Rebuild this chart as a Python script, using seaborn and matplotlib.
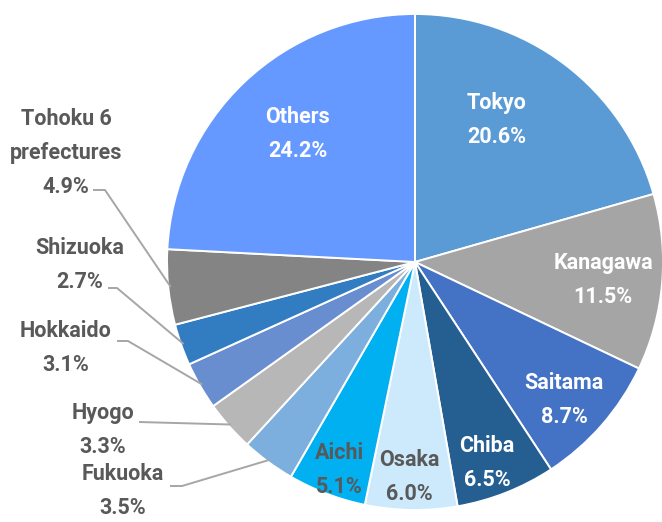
import numpy as np
import matplotlib
matplotlib.use("Agg")
import matplotlib.pyplot as plt
import seaborn as sns

# share of each prefecture (%), clockwise from 12 o'clock
regions = ["Tokyo", "Kanagawa", "Saitama", "Chiba", "Osaka", "Aichi",
           "Fukuoka", "Hyogo", "Hokkaido", "Shizuoka", "Tohoku 6\nprefectures", "Others"]
shares = [20.6, 11.5, 8.7, 6.5, 6.0, 5.1, 3.5, 3.3, 3.1, 2.7, 4.9, 24.2]
slice_colors = ["#5b9bd5", "#a5a5a5", "#4472c4", "#255e91", "#cdeafd", "#00b0f0",
                "#7cafdd", "#b7b7b7", "#698ed0", "#327dc2", "#848484", "#6699ff"]

# label layout in pixel coords (x, y from top)
label_pos = {
    "Tokyo": (497, 120), "Kanagawa": (603, 280), "Saitama": (564, 400),
    "Chiba": (487, 463), "Osaka": (409, 477), "Aichi": (339, 470),
    "Fukuoka": (123, 491), "Hyogo": (103, 430), "Hokkaido": (66, 348),
    "Shizuoka": (80, 265), "Tohoku 6\nprefectures": (66, 153), "Others": (298, 134),
}
white_text = {"Tokyo", "Kanagawa", "Saitama", "Chiba", "Others"}
# leader line start + elbow for outside labels
leaders = {
    "Fukuoka": [(170, 486), (182, 486)],
    "Hyogo": [(139, 422), (139, 422)],
    "Hokkaido": [(117, 341), (128, 341)],
    "Shizuoka": [(108, 288), (117, 288)],
    "Tohoku 6\nprefectures": [(93, 190), (105, 190)],
}

W, H = 662, 522
cx, cy, R = 415, 260, 248

sns.set_style("white")
plt.rcParams["font.family"] = ["Roboto", "DejaVu Sans"]

fig = plt.figure(figsize=(W / 100, H / 100), dpi=100)
ax = fig.add_axes([0, 0, 1, 1])
palette = sns.color_palette(slice_colors)

wedges, _ = ax.pie(shares, colors=palette, startangle=90, counterclock=False,
                   center=(cx, cy), radius=R,
                   wedgeprops=dict(edgecolor="white", linewidth=1.4))

for w, name, val in zip(wedges, regions, shares):
    px, py = label_pos[name]
    color = "white" if name in white_text else "#595959"
    ax.text(px, H - py, f"{name}\n{val:.1f}%", ha="center", va="center",
            fontsize=15.5, fontweight="bold", color=color, linespacing=1.7)
    if name in leaders:
        mid = np.deg2rad((w.theta1 + w.theta2) / 2)
        ex, ey = cx + R * 0.99 * np.cos(mid), cy + R * 0.99 * np.sin(mid)
        (x0, y0), (x1, y1) = leaders[name]
        ax.plot([x0, x1, ex], [H - y0, H - y1, ey], color="#a6a6a6", lw=1.4,
                solid_capstyle="butt")

ax.set_xlim(0, W)
ax.set_ylim(0, H)
ax.set_aspect("equal", adjustable="box")
ax.axis("off")

fig.savefig("out.png", dpi=100, facecolor="white")
